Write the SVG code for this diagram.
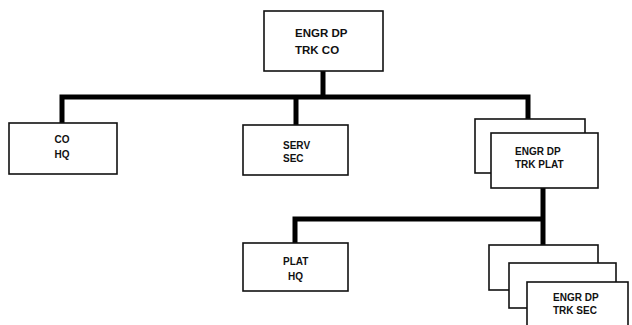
<svg xmlns="http://www.w3.org/2000/svg" width="632" height="325" viewBox="0 0 632 325">
<style>
.box{fill:#fff;stroke:#111;stroke-width:1.6}
.t{font-family:"Liberation Sans",Arial,sans-serif;font-weight:bold;font-size:10px;fill:#111}
.tl{font-family:"Liberation Sans",Arial,sans-serif;font-weight:bold;font-size:11.5px;fill:#111}
.c{fill:none;stroke:#000;stroke-width:5;stroke-linejoin:miter;stroke-linecap:butt}
</style>
<rect width="632" height="325" fill="#fff"/>
<g id="connectors">
<path class="c" d="M323,71 V97"/>
<path class="c" d="M62,123 V97 H528 V119"/>
<path class="c" d="M296,97 V125"/>
<path class="c" d="M543,188 V245"/>
<path class="c" d="M295,243 V219 H543"/>
</g>
<g id="engr-dp-trk-co">
<rect class="box" x="264" y="11" width="119" height="60"/>
<text class="tl" x="295" y="37">ENGR DP</text>
<text class="tl" x="295" y="54">TRK CO</text>
</g>
<g id="co-hq">
<rect class="box" x="9" y="123" width="108" height="51"/>
<text class="t" x="62" y="143" text-anchor="middle">CO</text>
<text class="t" x="62" y="158" text-anchor="middle">HQ</text>
</g>
<g id="serv-sec">
<rect class="box" x="243" y="125" width="105" height="50"/>
<text class="t" x="283" y="149">SERV</text>
<text class="t" x="283" y="162">SEC</text>
</g>
<g id="engr-dp-trk-plat">
<rect class="box" x="475" y="119" width="110" height="54"/>
<rect class="box" x="491" y="133" width="107" height="55"/>
<text class="t" x="515" y="155">ENGR DP</text>
<text class="t" x="515" y="168">TRK PLAT</text>
</g>
<g id="plat-hq">
<rect class="box" x="243" y="243" width="105" height="48"/>
<text class="t" x="283" y="265">PLAT</text>
<text class="t" x="288" y="280">HQ</text>
</g>
<g id="engr-dp-trk-sec">
<rect class="box" x="489" y="245" width="109" height="45"/>
<rect class="box" x="509" y="263" width="107" height="45"/>
<rect class="box" x="527" y="282" width="101" height="50"/>
<text class="t" x="553" y="301">ENGR DP</text>
<text class="t" x="553" y="314">TRK SEC</text>
</g>
</svg>
